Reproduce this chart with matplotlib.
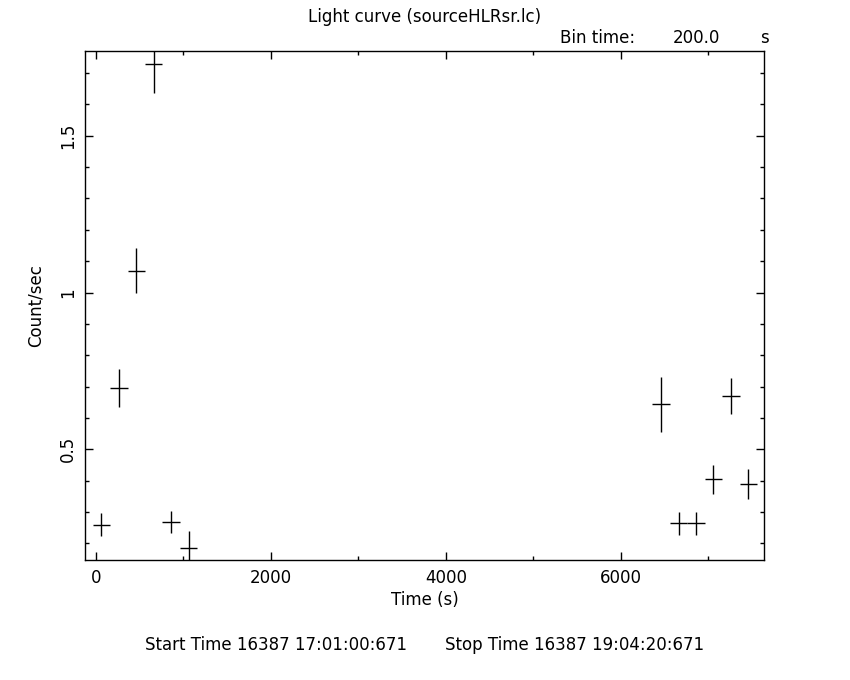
import numpy as np
import matplotlib
matplotlib.use("Agg")
from matplotlib import pyplot as plt
from matplotlib.ticker import MultipleLocator

# light curve bins (centre time, rate, error), bin = 200 s
time = [60, 260, 460, 660, 860, 1060, 6460, 6660, 6860, 7060, 7260, 7460]
rate = [0.259, 0.695, 1.070, 1.729, 0.268, 0.186, 0.643, 0.264, 0.264, 0.404, 0.669, 0.390]
rate_err = [0.037, 0.060, 0.072, 0.093, 0.035, 0.054, 0.088, 0.037, 0.037, 0.046, 0.058, 0.047]
half_bin = 100

title = 'Light curve (sourceHLRsr.lc)'
start_str = 'Start Time 16387 17:01:00:671'
stop_str = 'Stop Time 16387 19:04:20:671'

plt.rcParams['font.family'] = ['DejaVu Sans']
fs = 12

fig = plt.figure(figsize=(8.5, 6.8), dpi=100)
ax = fig.add_axes([0.1, 0.176, 0.7994, 0.7485])

ax.errorbar(time, rate, xerr=half_bin, yerr=rate_err, fmt='none',
            ecolor='black', elinewidth=1.0, capsize=0)

ax.set_xlim(-126, 7643)
ax.set_ylim(0.146, 1.769)

ax.xaxis.set_major_locator(MultipleLocator(2000))
ax.xaxis.set_minor_locator(MultipleLocator(1000))
ax.yaxis.set_major_locator(MultipleLocator(0.5))
ax.yaxis.set_minor_locator(MultipleLocator(0.1))
ax.set_yticks([0.5, 1.0, 1.5])
ax.set_yticklabels(['0.5', '1', '1.5'], rotation=90, va='center')

ax.tick_params(which='both', direction='in', top=True, right=True, width=1.0,
               labelsize=fs, color='black')
ax.tick_params(which='major', length=5.8, pad=6)
ax.tick_params(which='minor', length=2.9)
for sp in ax.spines.values():
    sp.set_linewidth(1.0)

ax.set_xlabel('Time (s)', fontsize=fs, labelpad=3)
ax.set_ylabel('Count/sec', fontsize=fs, labelpad=10)

fig.text(0.5, 0.975, title, ha='center', va='center', fontsize=fs)
fig.text(0.659, 0.944, 'Bin time:', ha='left', va='center', fontsize=fs)
fig.text(0.792, 0.944, '200.0', ha='left', va='center', fontsize=fs)
fig.text(0.894, 0.944, 's', ha='left', va='center', fontsize=fs)
fig.text(0.171, 0.051, start_str, ha='left', va='center', fontsize=fs)
fig.text(0.523, 0.051, stop_str, ha='left', va='center', fontsize=fs)

fig.savefig('out.png', dpi=100)
